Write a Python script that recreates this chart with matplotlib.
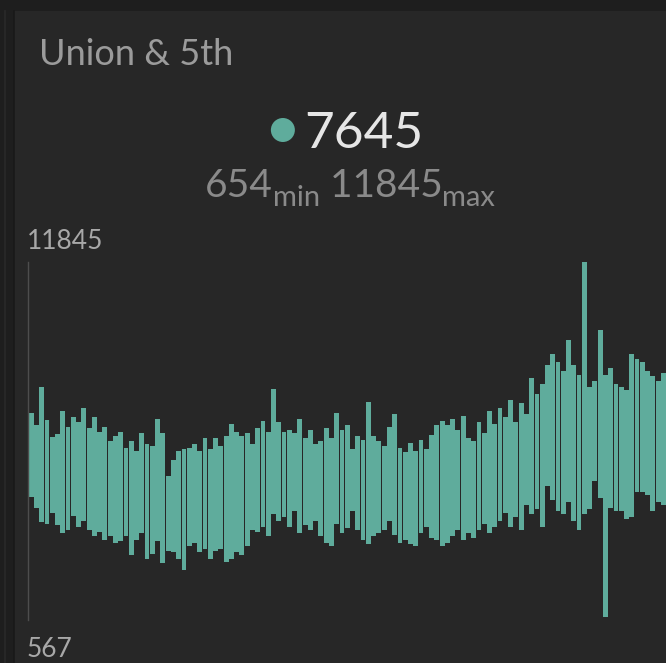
import numpy as np
import matplotlib
matplotlib.use("Agg")
import matplotlib.pyplot as plt
from matplotlib.patches import Rectangle, Ellipse
from matplotlib.lines import Line2D

# Station readings: per-interval high and low of the signal
highs = [
    7090, 6700, 7900, 6860, 6330, 6440, 7150, 6650, 6950, 6800,
    7250, 6600, 6950, 6500, 6650, 6200, 6350, 6500, 6000, 6200,
    5900, 6450, 6100, 6050, 6900, 6450, 5100, 5600, 5900, 5950,
    6000, 6100, 5900, 6300, 5950, 6300, 6050, 6350, 6750, 6500,
    6350, 6450, 6100, 6600, 6850, 6500, 7850, 6800, 6500, 6550,
    6450, 6900, 6300, 6550, 6100, 6200, 6600, 6300, 7100, 6550,
    6700, 5950, 6350, 6250, 7450, 6350, 6200, 6050, 6650, 7050,
    6000, 5850, 6150, 5900, 6250, 5950, 6400, 6700,
    6850, 6700, 6900, 6550, 7000, 6300, 6200, 6800, 6450, 7150,
    6750, 7250, 6950, 7500, 6800, 7400, 7050, 8200, 7700, 8000,
    8600, 8950, 8700, 8400, 9400, 8600, 8300, 11845, 7900, 8100,
    9700, 8300, 8500, 8000, 7900, 7800, 8950, 8800, 8700, 8400,
    8250, 8100, 8350,
]
lows = [
    4450, 4100, 3650, 3600, 3950, 3550, 3300, 3400, 3850, 3500,
    3700, 3400, 3200, 3350, 3100, 3200, 3000, 3050, 3200, 2600,
    3100, 3300, 2500, 2650, 3050, 2350, 2750, 2700, 2500, 2150,
    2900, 3000, 2700, 2800, 2500, 2750, 2800, 2400, 2500, 2700,
    2600, 2900, 3400, 3350, 3500, 3200, 3900, 3700, 3800, 3500,
    4000, 3300, 3550, 3400, 3700, 3200, 3000, 2900, 3600, 3300,
    3450, 4000, 3400, 3100, 2950, 3200, 3300, 3400, 3700, 3250,
    3000, 3100, 2950, 2900, 3300, 3500, 3150, 3100,
    2900, 3000, 3200, 3400, 3100, 3300, 3150, 3400, 3600, 3300,
    3500, 3700, 3950, 3500, 3800, 3400, 4200, 3900, 4050, 3500,
    4800, 4350, 4000, 3900, 4300, 3700, 3400, 3900, 4050, 4950,
    4400, 654, 4100, 4000, 4000, 3750, 3800, 4600, 4600, 4500,
    4000, 4300, 4200,
]

title = "Union & 5th"
current_value = 7645
min_value = 654
max_value = 11845
axis_top_label = "11845"
axis_bottom_label = "567"
axis_range = (567, 11845)

TEAL = "#5fac9c"
W, H = 666, 663
DPI = 100

plt.rcParams["font.family"] = ["Lato", "DejaVu Sans"]

fig = plt.figure(figsize=(W / DPI, H / DPI), dpi=DPI, facecolor="#1e1e1e")


def fx(px):
    return px / W


def fy(py):
    return 1 - py / H


# card background and frame
fig.patches.append(Rectangle((fx(14), 0), 1 - fx(14), fy(11), transform=fig.transFigure,
                             facecolor="#272727", edgecolor="none", zorder=-10))
fig.lines.append(Line2D([fx(4.5), fx(4.5)], [0, fy(11)], transform=fig.transFigure,
                        color="#2a2a2a", lw=1.2, zorder=-5))
fig.lines.append(Line2D([fx(13.5), fx(13.5)], [0, fy(11)], transform=fig.transFigure,
                        color="#191919", lw=1.2, zorder=-5))

# header texts
fig.text(fx(39), fy(65), title, color="#9b9b9b", fontsize=26, va="baseline", ha="left")

renderer = fig.canvas.get_renderer()


def text_width(s, size):
    t = fig.text(0, 0, s, fontsize=size)
    w = t.get_window_extent(renderer).width
    t.remove()
    return w


# current value with colored dot
big = str(current_value)
big_size = 37
dot_r = 12
gap = 9
bw = text_width(big, big_size)
total = 2 * dot_r + gap + bw
cx = 347
x0 = cx - total / 2
fig.patches.append(Ellipse((fx(x0 + dot_r), fy(130)), 2 * dot_r / W, 2 * dot_r / H,
                           transform=fig.transFigure, facecolor=TEAL, edgecolor="none"))
fig.text(fx(x0 + 2 * dot_r + gap), fy(148), big, color="#e6e6e6", fontsize=big_size,
         va="baseline", ha="left")

# min / max line with subscripts
pieces = [(str(min_value), 28, 0), ("min", 21, 9), (" " + str(max_value), 28, 0), ("max", 21, 9)]
widths = [text_width(s, sz) for s, sz, _ in pieces]
xpos = 350 - sum(widths) / 2
for (s, sz, dy), w in zip(pieces, widths):
    fig.text(fx(xpos), fy(197 + dy), s, color="#8a8a8a", fontsize=sz, va="baseline", ha="left")
    xpos += w

# axis labels
fig.text(fx(27), fy(249), axis_top_label, color="#a8a8a8", fontsize=19, va="baseline", ha="left")
fig.text(fx(27), fy(657), axis_bottom_label, color="#a8a8a8", fontsize=19, va="baseline", ha="left")

# range chart
ax = fig.add_axes([fx(28), fy(620), 1 - fx(28), fy(262) - fy(620)])
ax.set_facecolor("none")
hi = np.array(highs, dtype=float)
lo = np.array(lows, dtype=float)
x = np.arange(len(hi))
ax.bar(x, hi - lo, bottom=lo, width=0.92, color=TEAL, edgecolor="none")
ax.set_ylim(*axis_range)
ax.set_xlim(-0.6, len(hi) - 0.5)
for side in ("top", "right", "bottom"):
    ax.spines[side].set_visible(False)
ax.spines["left"].set_color("#4d4d4d")
ax.spines["left"].set_linewidth(1.0)
ax.set_xticks([])
ax.set_yticks([])

fig.savefig("out.png", dpi=DPI, facecolor=fig.get_facecolor())
